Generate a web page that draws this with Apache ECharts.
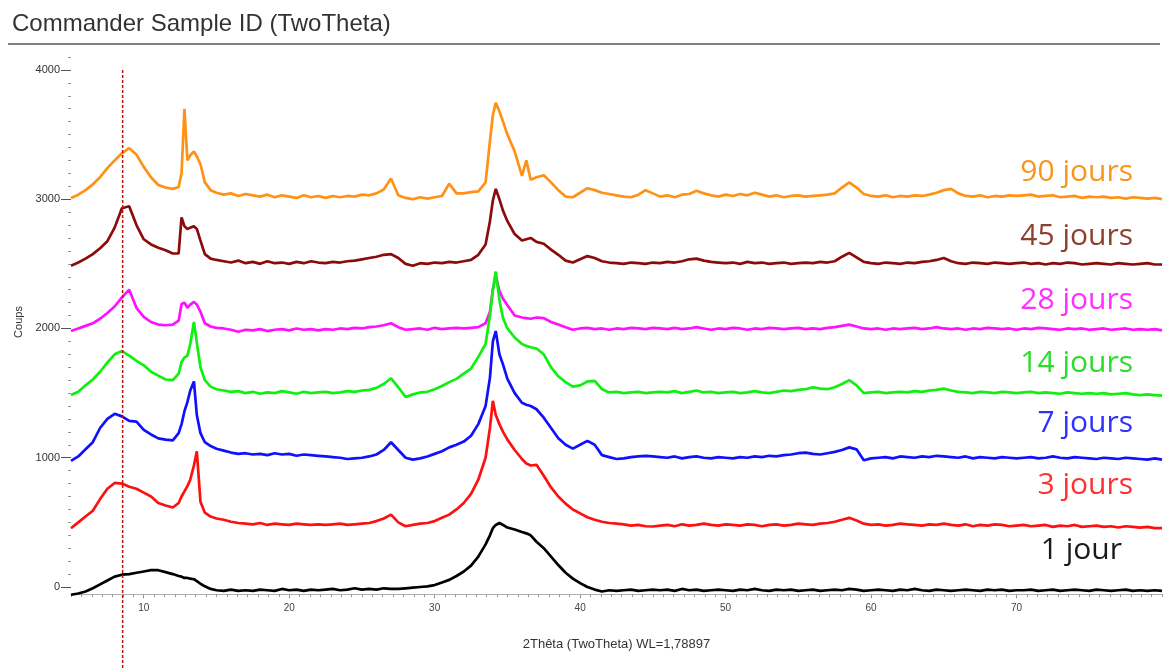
<!DOCTYPE html>
<html>
<head>
<meta charset="utf-8">
<script src="https://cdn.jsdelivr.net/npm/echarts@6/dist/echarts.min.js"></script>
<style>html,body{margin:0;padding:0;background:#fff}#c{width:1168px;height:670px}</style>
</head>
<body>
<div id="c"></div>
<script>
// 2-theta positions (degrees)
const theta = [5,5.5,6,6.5,7,7.5,8,8.5,9,9.5,
10,10.5,11,11.5,12,12.4,12.6,12.8,13,13.2,
13.45,13.65,13.9,14.2,14.6,15,15.5,16,16.5,17,
17.5,18,18.5,19,19.5,20,20.5,21,21.5,22,
22.5,23,23.5,24,24.5,25,25.5,26,26.5,27,
27.5,28,28.5,29,29.5,30,30.5,31,31.5,32,
32.5,33,33.5,33.8,34,34.2,34.45,34.7,35,35.5,
36,36.3,36.6,37,37.5,38,38.5,39,39.5,40,
40.5,41,41.5,42,42.5,43,43.5,44,44.5,45,
45.5,46,46.5,47,47.5,48,48.5,49,49.5,50,
50.5,51,51.5,52,52.5,53,53.5,54,54.5,55,
55.5,56,56.5,57,57.5,58,58.5,59,59.5,60,
60.5,61,61.5,62,62.5,63,63.5,64,64.5,65,
65.5,66,66.5,67,67.5,68,68.5,69,69.5,70,
70.5,71,71.5,72,72.5,73,73.5,74,74.5,75,
75.5,76,76.5,77,77.5,78,78.5,79,79.5,80];

// Counts (already offset as in the picture)
const jour90 = [3010,3035,3070,3115,3170,3240,3300,3355,3395,3345,
3250,3170,3110,3090,3080,3095,3200,3700,3300,3340,
3370,3330,3270,3130,3070,3050,3035,3045,3025,3040,
3030,3020,3035,3015,3030,3020,3010,3030,3015,3025,
3010,3025,3015,3025,3020,3035,3030,3045,3075,3160,
3030,3010,3000,3015,3005,3015,3025,3120,3045,3045,
3055,3060,3130,3450,3650,3745,3680,3600,3500,3370,
3180,3300,3150,3170,3185,3130,3070,3020,3015,3050,
3085,3070,3050,3040,3030,3020,3015,3035,3070,3045,
3020,3030,3015,3035,3040,3065,3045,3030,3020,3035,
3025,3040,3030,3050,3035,3020,3030,3015,3025,3030,
3020,3025,3030,3035,3045,3090,3130,3090,3040,3025,
3020,3030,3015,3025,3020,3030,3025,3035,3050,3070,
3080,3045,3025,3020,3030,3015,3025,3020,3030,3025,
3030,3035,3020,3025,3030,3015,3020,3025,3010,3020,
3015,3020,3010,3015,3005,3015,3010,3005,3010,3000];

const jour45 = [2485,2510,2540,2575,2620,2675,2780,2930,2945,2800,
2690,2650,2625,2605,2580,2580,2860,2790,2770,2780,
2790,2770,2680,2575,2540,2530,2520,2510,2525,2505,
2515,2500,2520,2505,2510,2500,2515,2505,2520,2510,
2505,2515,2510,2520,2525,2535,2545,2555,2570,2575,
2545,2500,2485,2505,2500,2510,2505,2515,2510,2520,
2530,2570,2650,2830,2990,3080,3000,2910,2830,2730,
2680,2690,2700,2670,2655,2610,2570,2525,2510,2535,
2560,2545,2520,2510,2505,2500,2510,2505,2500,2510,
2505,2515,2510,2520,2535,2540,2525,2515,2510,2505,
2510,2500,2515,2505,2510,2500,2505,2510,2500,2505,
2510,2505,2515,2510,2520,2555,2585,2550,2515,2505,
2500,2510,2505,2500,2510,2505,2515,2520,2530,2545,
2520,2505,2500,2510,2505,2500,2510,2505,2500,2505,
2510,2500,2505,2495,2505,2500,2510,2505,2495,2500,
2505,2500,2495,2505,2500,2495,2500,2505,2495,2495];

const jour28 = [1980,2000,2020,2040,2075,2120,2170,2240,2300,2160,
2090,2050,2030,2025,2030,2060,2190,2200,2160,2185,
2205,2185,2130,2040,2015,2005,2000,1990,1975,1990,
1985,1995,1980,1990,1995,1985,2000,1990,1995,1985,
1995,1990,2000,1995,2005,2000,2010,2015,2025,2040,
2010,1990,1995,2000,1990,2005,1995,2000,2005,2000,
2005,2010,2040,2130,2300,2410,2290,2230,2180,2100,
2085,2080,2075,2085,2080,2050,2030,2010,1990,2000,
2005,1995,2000,1990,2000,1995,2005,2000,1995,2005,
2000,1995,2005,1995,2000,2010,2000,1990,2000,1995,
2005,2000,1990,2000,1995,2005,2000,1995,2000,2005,
1995,2000,1995,2005,2010,2020,2030,2015,2000,1995,
2000,1990,2000,1995,2000,2005,1995,2000,2010,2000,
1995,2000,1990,2000,1995,2005,2000,1995,2000,1990,
2000,1995,2005,2000,1995,1990,2000,1995,2000,1990,
1995,2000,1990,1995,2000,1990,1995,1990,1995,1985];

const jour14 = [1485,1510,1560,1605,1665,1735,1800,1825,1790,1750,
1715,1665,1635,1605,1600,1650,1740,1775,1790,1880,
2050,1890,1700,1600,1550,1530,1520,1510,1515,1500,
1510,1495,1505,1500,1515,1505,1495,1510,1500,1505,
1510,1500,1505,1515,1510,1520,1525,1540,1570,1615,
1545,1470,1490,1505,1510,1530,1555,1585,1610,1650,
1690,1780,1880,2100,2300,2440,2220,2080,2000,1930,
1880,1865,1855,1845,1800,1700,1630,1585,1550,1560,
1590,1595,1530,1505,1510,1500,1505,1510,1500,1505,
1510,1505,1515,1500,1510,1520,1505,1510,1500,1505,
1510,1500,1505,1515,1505,1500,1510,1520,1515,1525,
1530,1545,1535,1530,1545,1570,1600,1560,1500,1505,
1510,1500,1505,1510,1505,1515,1510,1520,1525,1535,
1520,1510,1505,1500,1510,1505,1500,1510,1505,1500,
1505,1510,1500,1505,1500,1495,1505,1500,1495,1500,
1495,1500,1490,1495,1500,1490,1485,1490,1485,1480];

const jour7 = [975,1010,1065,1120,1230,1300,1340,1320,1285,1280,
1215,1180,1150,1140,1135,1190,1260,1360,1430,1520,
1590,1330,1190,1120,1090,1070,1055,1040,1030,1035,
1025,1030,1020,1035,1025,1030,1015,1025,1020,1015,
1010,1005,1000,990,995,1000,1010,1025,1060,1120,
1060,1000,985,995,1010,1030,1050,1080,1100,1125,
1170,1260,1400,1620,1900,1980,1800,1720,1610,1500,
1425,1410,1400,1375,1310,1230,1150,1100,1070,1100,
1130,1100,1020,1005,990,995,1005,1010,1015,1010,
1005,1000,1010,995,1005,1010,1000,995,1005,1000,
995,1005,1000,1010,1005,1015,1010,1020,1025,1035,
1040,1030,1025,1035,1045,1060,1080,1065,980,995,
1000,1005,995,1010,1005,1000,1010,1005,1015,1010,
1005,1000,1010,995,1005,1000,995,1005,1000,995,
1000,1005,995,1000,1010,1000,995,1005,1000,995,
990,1000,995,990,1000,995,990,985,995,985];

const jour3 = [455,500,545,590,680,760,805,800,775,760,
730,700,650,630,615,650,700,740,780,830,
940,1050,660,575,545,530,520,505,495,490,
485,495,480,490,485,480,490,485,480,485,
480,485,490,480,485,490,495,510,530,560,
500,470,480,490,495,510,535,560,600,650,
720,830,1000,1230,1440,1330,1260,1200,1140,1060,
990,955,940,945,860,770,700,645,600,570,
540,520,505,495,490,485,475,480,470,468,
475,480,470,485,475,480,490,480,475,485,
480,475,485,480,470,480,485,475,480,490,
485,480,490,495,505,520,535,515,490,480,
485,475,480,490,485,480,475,485,480,490,
480,475,485,470,480,475,485,480,470,475,
480,470,475,480,465,475,470,480,465,470,
475,465,470,460,470,465,460,465,455,455];

const jour1 = [-60,-50,-35,-10,20,50,80,95,100,110,
120,130,130,115,100,85,80,70,70,65,
60,45,25,5,-15,-25,-30,-20,-30,-25,
-30,-20,-25,-30,-15,-25,-20,-30,-20,-25,
-20,-15,-25,-20,-10,-20,-15,-20,-10,-15,
-15,-10,-5,0,5,15,35,55,85,120,
165,235,330,400,455,480,495,480,460,445,
425,415,400,350,300,235,170,110,65,30,
0,-20,-35,-25,-30,-25,-20,-30,-25,-20,
-25,-20,-30,-15,-25,-20,-30,-25,-20,-25,
-30,-20,-25,-15,-25,-30,-20,-25,-20,-30,
-25,-20,-30,-25,-20,-25,-15,-20,-30,-25,
-20,-25,-30,-20,-25,-15,-25,-30,-20,-25,
-30,-25,-20,-25,-30,-20,-25,-20,-30,-25,
-25,-20,-30,-25,-20,-30,-25,-20,-25,-30,
-20,-25,-30,-25,-20,-30,-25,-30,-25,-30];

const seriesNames = ['90 jours','45 jours','28 jours','14 jours','7 jours','3 jours','1 jour'];
const seriesValues = [jour90, jour45, jour28, jour14, jour7, jour3, jour1];
const xTickLabels = [10,20,30,40,50,60,70];
const yTickLabels = [0,1000,2000,3000,4000];
const markerTheta = 8.55;

const lineColors = ['#FF9214','#8B0A0A','#FF10FF','#10F010','#1010FF','#FF1010','#000000'];
const labelColors = ['#F7961E','#8E4030','#FF30FF','#2ADD2A','#3030FF','#FF3030','#1a1a1a'];
const labelPos = [[1133,172],[1133,236],[1133,300],[1133,363],[1133,423],[1133,485],[1122,550]];

const chart = echarts.init(document.getElementById('c'));
const series = seriesNames.map((n, i) => ({
  type: 'line', name: n, xAxisIndex: 0, yAxisIndex: 0,
  data: theta.map((t, k) => [t, seriesValues[i][k]]),
  symbol: 'none', showSymbol: false, clip: false, silent: true,
  lineStyle: { color: lineColors[i], width: 2.7 },
  z: 2 + i
}));

chart.setOption({
  animation: false,
  backgroundColor: '#fff',
  grid: { left: 71, right: 6, top: 57, bottom: 83 },
  xAxis: [{
    type: 'value', min: 5, max: 80, offset: 7, position: 'bottom',
    axisLine: { show: true, onZero: false, lineStyle: { color: '#b0b0b0', width: 1 } },
    axisTick: { show: true, customValues: xTickLabels, length: 4, lineStyle: { color: '#777' } },
    axisLabel: { customValues: xTickLabels, fontSize: 10, color: '#444', margin: 9, fontFamily: 'Liberation Sans',
                 formatter: v => String(v) },
    splitLine: { show: false },
    name: '2Thêta (TwoTheta) WL=1,78897', nameLocation: 'middle', nameGap: 44,
    nameTextStyle: { fontSize: 13, color: '#333', fontFamily: 'Liberation Sans' }
  }, {
    type: 'value', min: 5, max: 80, interval: 5 / 7, offset: 7, position: 'bottom',
    axisLine: { show: false, onZero: false },
    axisTick: { show: true, length: 3, lineStyle: { color: '#999' } },
    axisLabel: { show: false }, splitLine: { show: false }
  }],
  yAxis: [{
    type: 'value', min: 0, max: 4100, interval: 100, position: 'left',
    axisLine: { show: false, onZero: false },
    axisTick: { show: true, length: 3, lineStyle: { color: '#999' } },
    axisLabel: { show: false }, splitLine: { show: false }
  }, {
    type: 'value', min: 0, max: 4100, position: 'left',
    axisLine: { show: false, onZero: false },
    axisTick: { show: true, customValues: yTickLabels, length: 10, lineStyle: { color: '#555' } },
    axisLabel: { customValues: yTickLabels, fontSize: 11, color: '#333', margin: 11, fontFamily: 'Liberation Sans',
                 formatter: v => String(v) },
    splitLine: { show: false },
    name: 'Coups', nameLocation: 'middle', nameGap: 47, nameRotate: 90,
    nameTextStyle: { fontSize: 11, color: '#333', fontFamily: 'Liberation Sans' }
  }],
  series: series
});

const px = chart.convertToPixel({ xAxisIndex: 0 }, markerTheta);
const graphics = [
  { type: 'text', x: 12, y: 24, z: 10,
    style: { text: 'Commander Sample ID (TwoTheta)', fill: '#333', font: '24px "Liberation Sans"',
             textAlign: 'left', textVerticalAlign: 'middle', align: 'left', verticalAlign: 'middle' } },
  { type: 'line', z: 10, shape: { x1: 8, y1: 44, x2: 1160, y2: 44 }, style: { stroke: '#555', lineWidth: 1.5 } },
  { type: 'line', z: 20, shape: { x1: px, y1: 70, x2: px, y2: 670 },
    style: { stroke: '#C01010', lineWidth: 1.5, lineDash: [3, 2] } }
];
seriesNames.forEach((n, i) => {
  graphics.push({ type: 'text', x: labelPos[i][0], y: labelPos[i][1], z: 15,
    style: { text: n, fill: labelColors[i], font: '30px "Open Sans"',
             textAlign: 'right', textVerticalAlign: 'middle', align: 'right', verticalAlign: 'middle' } });
});
chart.setOption({ graphic: graphics });
</script>
</body>
</html>
